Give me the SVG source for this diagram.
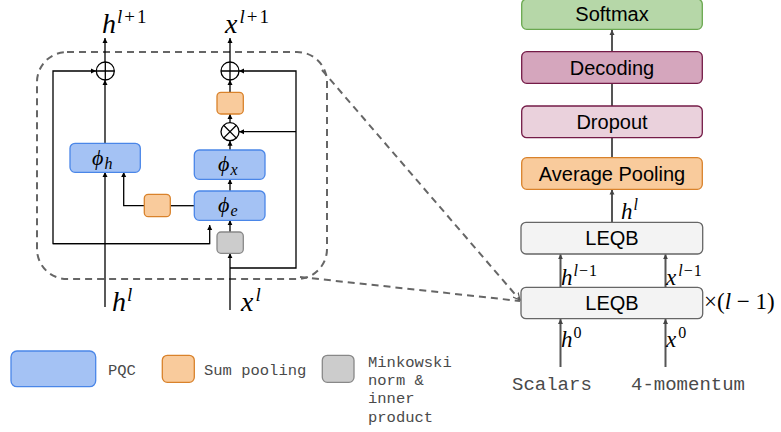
<svg xmlns="http://www.w3.org/2000/svg" width="781" height="432" viewBox="0 0 781 432">
<defs>
<marker id="ah" markerUnits="userSpaceOnUse" markerWidth="6" markerHeight="6" refX="5" refY="3" orient="auto">
<path d="M0,0.5 L5,3 L0,5.5 z" fill="#000"/>
</marker>
<marker id="ahg" markerUnits="userSpaceOnUse" markerWidth="6" markerHeight="6" refX="5" refY="3" orient="auto">
<path d="M0,0.5 L5,3 L0,5.5 z" fill="#444"/>
</marker>
<marker id="ahd" markerUnits="userSpaceOnUse" markerWidth="8" markerHeight="8" refX="7" refY="4" orient="auto">
<path d="M0,0.5 L7,4 L0,7.5" fill="none" stroke="#595959" stroke-width="1.2"/>
</marker>
</defs>
<style>
.ln{fill:none;stroke:#000;stroke-width:1.3}
.lg{fill:none;stroke:#555;stroke-width:2}
.dash{fill:none;stroke:#666;stroke-width:2;stroke-dasharray:7,5}
.pqc{fill:#a4c2f4;stroke:#4a86e8;stroke-width:1.3}
.sum{fill:#f9cb9c;stroke:#d9822b;stroke-width:1.3}
.mink{fill:#cccccc;stroke:#888;stroke-width:1.3}
.m{font-family:"Liberation Serif","Times New Roman",serif;font-style:italic;fill:#000}
.up{font-style:normal}
.box{font-family:"Liberation Sans",Arial,sans-serif;font-size:20px;fill:#000;text-anchor:middle}
.mono{font-family:"Liberation Mono","Courier New",monospace;fill:#4a4a4a}
</style>

<!-- dashed zoom box and lines -->
<g id="zoom-frame">
<rect class="dash" x="37" y="52" width="290" height="227" rx="30" ry="30"/>
<line class="dash" x1="322" y1="70" x2="520" y2="300" marker-end="url(#ahd)"/>
<line class="dash" x1="300" y1="277" x2="520" y2="301"/>
</g>

<!-- connectors -->
<g id="connectors">
<line class="ln" x1="105" y1="62" x2="105" y2="38" marker-end="url(#ah)"/>
<line class="ln" x1="105" y1="143" x2="105" y2="80" marker-end="url(#ah)"/>
<line class="ln" x1="105" y1="307" x2="105" y2="172" marker-end="url(#ah)"/>
<polyline class="ln" points="209.7,243.7 53,243.7 53,71 96,71" marker-end="url(#ah)"/>
<polyline class="ln" points="53,243.7 209.7,243.7 209.7,225" marker-end="url(#ah)"/>
<line class="ln" x1="194" y1="205.7" x2="170" y2="205.7"/>
<polyline class="ln" points="144,205.7 123.7,205.7 123.7,172" marker-end="url(#ah)"/>
<line class="ln" x1="230" y1="62" x2="230" y2="38" marker-end="url(#ah)"/>
<line class="ln" x1="230" y1="92" x2="230" y2="80" marker-end="url(#ah)"/>
<line class="ln" x1="230" y1="122.7" x2="230" y2="114" marker-end="url(#ah)"/>
<line class="ln" x1="230" y1="150" x2="230" y2="140.7" marker-end="url(#ah)"/>
<line class="ln" x1="230" y1="191" x2="230" y2="179.3" marker-end="url(#ah)"/>
<line class="ln" x1="230" y1="232" x2="230" y2="220.3" marker-end="url(#ah)"/>
<line class="ln" x1="230" y1="310" x2="230" y2="253.3" marker-end="url(#ah)"/>
<polyline class="ln" points="230,268 296,268 296,71 239,71" marker-end="url(#ah)"/>
<line class="ln" x1="296" y1="131.7" x2="239" y2="131.7" marker-end="url(#ah)"/>
<line class="lg" x1="612" y1="157.7" x2="612" y2="30" marker-end="url(#ahg)"/>
<line class="lg" x1="612" y1="222.3" x2="612" y2="189.5" marker-end="url(#ahg)"/>
<line class="lg" x1="560.5" y1="287.3" x2="560.5" y2="254.3" marker-end="url(#ahg)"/>
<line class="lg" x1="665.5" y1="287.3" x2="665.5" y2="254.3" marker-end="url(#ahg)"/>
<line class="lg" x1="560.5" y1="367" x2="560.5" y2="319" marker-end="url(#ahg)"/>
<line class="lg" x1="665.5" y1="367" x2="665.5" y2="319" marker-end="url(#ahg)"/>
</g>

<!-- left diagram nodes -->
<g id="oplus-h">
<circle cx="105.3" cy="71" r="9" fill="#fff" stroke="#000" stroke-width="1.3"/>
<path d="M96.3,71 H114.3 M105.3,62 V80" stroke="#000" stroke-width="1.3"/>
</g>
<g id="oplus-x">
<circle cx="230" cy="71" r="9" fill="#fff" stroke="#000" stroke-width="1.3"/>
<path d="M221,71 H239 M230,62 V80" stroke="#000" stroke-width="1.3"/>
</g>
<g id="otimes">
<circle cx="230" cy="131.7" r="9" fill="#fff" stroke="#000" stroke-width="1.3"/>
<path d="M223.6,125.3 L236.4,138.1 M236.4,125.3 L223.6,138.1" stroke="#000" stroke-width="1.3"/>
</g>
<g id="sum-top"><rect class="sum" x="217" y="92.3" width="26.3" height="21.7" rx="4"/></g>
<g id="sum-mid"><rect class="sum" x="144.3" y="194.3" width="26" height="22.4" rx="4"/></g>
<g id="mink"><rect class="mink" x="217" y="232" width="26.3" height="21.3" rx="4"/></g>
<g id="phi-h">
<rect class="pqc" x="70" y="143.3" width="70.3" height="29" rx="5"/>
<text class="m" x="92" y="165" font-size="22">ϕ<tspan font-size="16" dx="1" dy="4">h</tspan></text>
</g>
<g id="phi-x">
<rect class="pqc" x="194.3" y="150" width="70.7" height="29.3" rx="5"/>
<text class="m" x="218" y="171" font-size="22">ϕ<tspan font-size="16" dx="1" dy="4">x</tspan></text>
</g>
<g id="phi-e">
<rect class="pqc" x="194.3" y="191" width="70.7" height="29.3" rx="5"/>
<text class="m" x="218" y="212" font-size="22">ϕ<tspan font-size="16" dx="1" dy="4">e</tspan></text>
</g>

<!-- left labels -->
<g id="label-h-out"><text class="m" x="102" y="33" font-size="28">h<tspan font-size="19" dx="1" dy="-10">l</tspan><tspan class="up" font-size="19" dx="2">+</tspan><tspan class="up" font-size="19" dx="2">1</tspan></text></g>
<g id="label-x-out"><text class="m" x="225" y="33" font-size="28">x<tspan font-size="19" dx="2" dy="-10">l</tspan><tspan class="up" font-size="19" dx="2">+</tspan><tspan class="up" font-size="19" dx="2">1</tspan></text></g>
<g id="label-h-in"><text class="m" x="112" y="311" font-size="28">h<tspan font-size="19" dx="1" dy="-10">l</tspan></text></g>
<g id="label-x-in"><text class="m" x="241" y="311" font-size="28">x<tspan font-size="19" dx="2" dy="-10">l</tspan></text></g>

<!-- right diagram nodes -->
<g id="softmax">
<rect x="521.7" y="-1" width="180.6" height="30.3" rx="5" fill="#b6d7a8" stroke="#6aa84f" stroke-width="1.3"/>
<text class="box" x="612" y="21">Softmax</text>
</g>
<g id="decoding">
<rect x="521.7" y="51.7" width="180.6" height="31.6" rx="5" fill="#d5a6bd" stroke="#741b47" stroke-width="1.3"/>
<text class="box" x="612" y="75">Decoding</text>
</g>
<g id="dropout">
<rect x="521.7" y="106" width="180.6" height="31.7" rx="5" fill="#ead1dc" stroke="#741b47" stroke-width="1.3"/>
<text class="box" x="612" y="128.5">Dropout</text>
</g>
<g id="avgpool">
<rect x="521.7" y="157.7" width="180.6" height="31.6" rx="5" fill="#f9cb9c" stroke="#d9822b" stroke-width="1.3"/>
<text class="box" x="612" y="180.5">Average Pooling</text>
</g>
<g id="leqb-top">
<rect x="521" y="222.3" width="181.7" height="31.7" rx="5" fill="#f3f3f3" stroke="#666" stroke-width="1.3"/>
<text class="box" x="612" y="245">LEQB</text>
</g>
<g id="leqb-bottom">
<rect x="521" y="287.3" width="181.7" height="31.4" rx="5" fill="#f3f3f3" stroke="#666" stroke-width="1.3"/>
<text class="box" x="612" y="310">LEQB</text>
</g>

<!-- right labels -->
<g id="label-hl"><text class="m" x="621" y="219" font-size="23">h<tspan font-size="16" dx="1" dy="-9">l</tspan></text></g>
<g id="label-hl1"><text class="m" x="561" y="285" font-size="23">h<tspan font-size="16" dx="1" dy="-9">l</tspan><tspan class="up" font-size="16" dx="1">−</tspan><tspan class="up" font-size="16" dx="1">1</tspan></text></g>
<g id="label-xl1"><text class="m" x="666" y="285" font-size="23">x<tspan font-size="16" dx="2" dy="-9">l</tspan><tspan class="up" font-size="16" dx="1">−</tspan><tspan class="up" font-size="16" dx="1">1</tspan></text></g>
<g id="label-rep"><text class="m" x="704" y="309" font-size="23" style="font-style:normal">×(<tspan style="font-style:italic">l</tspan> − 1)</text></g>
<g id="label-h0"><text class="m" x="561" y="347" font-size="23">h<tspan class="up" font-size="16" dx="1" dy="-9">0</tspan></text></g>
<g id="label-x0"><text class="m" x="666" y="347" font-size="23">x<tspan class="up" font-size="16" dx="2" dy="-9">0</tspan></text></g>
<g id="label-scalars"><text class="mono" x="512" y="390" font-size="19">Scalars</text></g>
<g id="label-momentum"><text class="mono" x="631" y="390" font-size="19">4-momentum</text></g>

<!-- legend -->
<g id="legend-pqc">
<rect class="pqc" x="11" y="351" width="84.7" height="35.7" rx="6"/>
<text class="mono" x="108" y="375" font-size="15.5">PQC</text>
</g>
<g id="legend-sum">
<rect class="sum" x="162.3" y="355.3" width="32" height="27" rx="5"/>
<text class="mono" x="204" y="375" font-size="15.5">Sum pooling</text>
</g>
<g id="legend-mink">
<rect class="mink" x="322.3" y="355.3" width="31.7" height="27" rx="5"/>
<text class="mono" font-size="15.5"><tspan x="368" y="366.7">Minkowski</tspan><tspan x="368" y="385">norm &amp;</tspan><tspan x="368" y="403.3">inner</tspan><tspan x="368" y="421.6">product</tspan></text>
</g>
</svg>
